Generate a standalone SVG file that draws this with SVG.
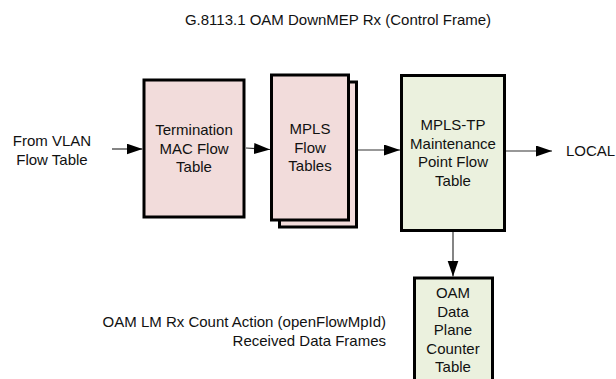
<svg xmlns="http://www.w3.org/2000/svg" width="616" height="379" viewBox="0 0 616 379">
<style>
text{font-family:"Liberation Sans",Arial,sans-serif;font-size:15px;fill:#111}
.c{text-anchor:middle}
.r{text-anchor:end}
.box{stroke:#000;stroke-width:3}
.pink{fill:#f2dcdb}
.green{fill:#ebf1de}
.conn{stroke:#333;stroke-width:1.2;fill:none;marker-end:url(#ah)}
</style>
<defs>
<marker id="ah" markerUnits="userSpaceOnUse" markerWidth="17" markerHeight="12" refX="16" refY="5.5" orient="auto">
<path d="M0,0 L16,5.5 L0,11 Z" fill="#000"/>
</marker>
</defs>
<rect width="616" height="379" fill="#fff"/>
<text class="c" x="338" y="25">G.8113.1 OAM DownMEP Rx (Control Frame)</text>
<g id="from-vlan">
<text class="c" x="52" y="146">From VLAN</text>
<text class="c" x="52" y="164.5">Flow Table</text>
</g>
<g id="termination-mac">
<rect class="box pink" x="144" y="80" width="100" height="137"/>
<text class="c" x="194" y="135">Termination</text>
<text class="c" x="194" y="153.5">MAC Flow</text>
<text class="c" x="194" y="172">Table</text>
</g>
<g id="mpls-flow-tables">
<rect class="box pink" x="279.5" y="82" width="77" height="145"/>
<rect class="box pink" x="271.5" y="75" width="77" height="145"/>
<text class="c" x="310" y="134">MPLS</text>
<text class="c" x="310" y="152.5">Flow</text>
<text class="c" x="310" y="171">Tables</text>
</g>
<g id="mpls-tp-mp">
<rect class="box green" x="401.5" y="75.5" width="103" height="155"/>
<text class="c" x="453" y="130">MPLS-TP</text>
<text class="c" x="453" y="148.5">Maintenance</text>
<text class="c" x="453" y="167">Point Flow</text>
<text class="c" x="453" y="185.5">Table</text>
</g>
<g id="local">
<text x="566" y="156">LOCAL</text>
</g>
<g id="oam-counter">
<rect class="box green" x="414.5" y="278" width="78" height="120"/>
<text class="c" x="453" y="298">OAM</text>
<text class="c" x="453" y="316.5">Data</text>
<text class="c" x="453" y="335">Plane</text>
<text class="c" x="453" y="353.5">Counter</text>
<text class="c" x="453" y="372">Table</text>
</g>
<g id="note">
<text class="r" x="386" y="327">OAM LM Rx Count Action (openFlowMpId)</text>
<text class="r" x="386" y="346">Received Data Frames</text>
</g>
<g id="connectors">
<path class="conn" d="M112,149 L142.5,149"/>
<path class="conn" d="M246,148 L270,149.5"/>
<path class="conn" d="M358,150 L400,150"/>
<path class="conn" d="M506,151 L552,151"/>
<path class="conn" d="M453,232 L453,276.5"/>
</g>
</svg>
